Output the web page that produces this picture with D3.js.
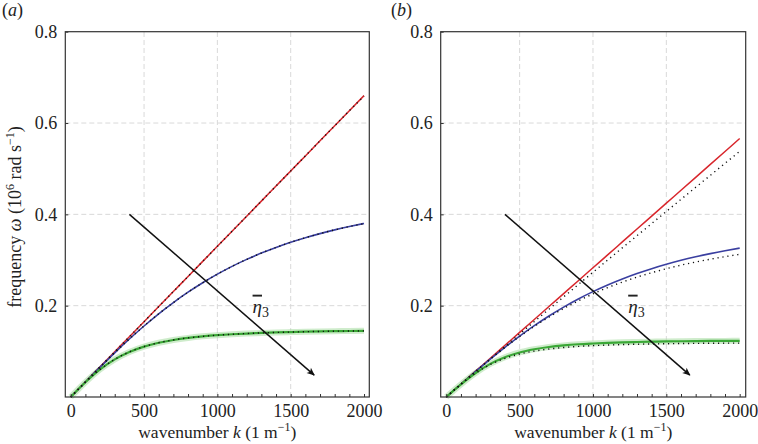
<!DOCTYPE html>
<html>
<head>
<meta charset="utf-8">
<script src="https://cdn.jsdelivr.net/npm/d3@7/dist/d3.min.js"></script>
<style>
  html, body { margin: 0; padding: 0; background: #fff; }
  svg { display: block; }
  text { font-family: "Liberation Serif", "Times New Roman", serif; fill: #222; }
</style>
</head>
<body>
<svg id="chart" width="758" height="444"></svg>
<script>
// ---------------- data ----------------
const kValues = [0,100,200,300,400,500,600,700,800,900,1000,1100,1200,1300,1400,1500,1600,1700,1800,1900,2000];

// panel (a)
const aRed   = [0,0.033,0.066,0.099,0.132,0.165,0.198,0.231,0.264,0.297,0.33,0.363,0.396,0.429,0.462,0.495,0.528,0.561,0.594,0.627,0.66];
const aBlue  = [0,0.0329,0.0653,0.0968,0.127,0.1555,0.1822,0.2068,0.2295,0.2502,0.269,0.2861,0.3014,0.3152,0.3276,0.3388,0.3488,0.3578,0.366,0.3733,0.38];
const aGreen = [0,0.0322,0.0603,0.0824,0.0987,0.1104,0.1188,0.1249,0.1294,0.1328,0.1354,0.1374,0.139,0.1403,0.1414,0.1422,0.143,0.1436,0.1441,0.1445,0.1449];
const aRedDot   = [0,0.033,0.066,0.099,0.132,0.165,0.198,0.231,0.264,0.297,0.33,0.363,0.396,0.429,0.462,0.495,0.528,0.561,0.594,0.627,0.659];
const aBlueDot  = [0,0.0329,0.0653,0.0968,0.127,0.1555,0.1822,0.2068,0.2295,0.2502,0.269,0.2861,0.3014,0.3152,0.3276,0.3388,0.3488,0.3578,0.366,0.3733,0.3795];
const aGreenDot = [0,0.0322,0.0603,0.0824,0.0987,0.1104,0.1188,0.1249,0.1294,0.1328,0.1354,0.1374,0.139,0.1403,0.1414,0.1422,0.143,0.1436,0.1441,0.1445,0.1448];

// panel (b)
const bRed   = [0,0.0283,0.0566,0.0849,0.1132,0.1415,0.1698,0.1981,0.2264,0.2547,0.283,0.3113,0.3396,0.3679,0.3962,0.4245,0.4528,0.4811,0.5094,0.5377,0.566];
const bBlue  = [0,0.0282,0.0560,0.0830,0.1089,0.1334,0.1562,0.1774,0.1969,0.2147,0.2308,0.2454,0.2585,0.2704,0.2811,0.2907,0.2993,0.3070,0.3140,0.3203,0.3260];
const bGreen = [0,0.0277,0.0525,0.0725,0.0870,0.0975,0.1045,0.1095,0.1130,0.1155,0.1172,0.1186,0.1197,0.1205,0.1212,0.1217,0.1221,0.1224,0.1227,0.1229,0.1231];
const bRedDot   = [0,0.0280,0.0557,0.0833,0.1107,0.1380,0.1652,0.1923,0.2193,0.2462,0.2731,0.2999,0.3266,0.3532,0.3798,0.4063,0.4328,0.4592,0.4855,0.5118,0.5380];
const bBlueDot  = [0,0.0282,0.0560,0.0828,0.1084,0.1324,0.1547,0.1751,0.1938,0.2106,0.2258,0.2395,0.2516,0.2625,0.2722,0.2809,0.2887,0.2956,0.3018,0.3074,0.3124];
const bGreenDot = [0,0.0277,0.0520,0.0710,0.0845,0.0942,0.1005,0.1050,0.1084,0.1108,0.1125,0.1138,0.1148,0.1156,0.1162,0.1167,0.1171,0.1174,0.1177,0.1179,0.1181];

const xTickLabels = [0,500,1000,1500,2000];
const xMinorTicks = [0,100,200,300,400,500,600,700,800,900,1000,1100,1200,1300,1400,1500,1600,1700,1800,1900,2000];
const yTickLabels = [0.2,0.4,0.6,0.8];
const xGrid = [500,1000,1500];
const yGrid = [0.2,0.4,0.6];

const arrowStart = [400, 0.4];
const arrowEnd   = [1660, 0.048];
const etaLabelPos = [1240, 0.2];

const panelLetters = ["a","b"];

// ---------------- drawing ----------------
const svg = d3.select("#chart");
const COLORS = { red: "#d8262c", blue: "#3a3fa0", green: "#3aa836", halo: "#a8dca2" };

const defs = svg.append("defs");
defs.append("marker")
  .attr("id","arrowhead")
  .attr("viewBox","0 0 10 10")
  .attr("refX",9).attr("refY",5)
  .attr("markerWidth",11).attr("markerHeight",8)
  .attr("markerUnits","userSpaceOnUse")
  .attr("orient","auto")
  .append("path").attr("d","M0,0.8 L10,5 L0,9.2 L2.5,5 Z").attr("fill","#111");

function drawPanel(cfg) {
  const x = d3.scaleLinear().domain(cfg.xDomain).range([cfg.left, cfg.right]);
  const y = d3.scaleLinear().domain([0, 0.8]).range([397, 31.7]);
  const g = svg.append("g");

  // grid
  g.selectAll(".gx").data(xGrid).enter().append("line")
    .attr("x1", d => x(d)).attr("x2", d => x(d))
    .attr("y1", y(0)).attr("y2", y(0.8))
    .attr("stroke","#d9d9d9").attr("stroke-width",1).attr("stroke-dasharray","5,3");
  g.selectAll(".gy").data(yGrid).enter().append("line")
    .attr("x1", cfg.left).attr("x2", cfg.right)
    .attr("y1", d => y(d)).attr("y2", d => y(d))
    .attr("stroke","#d9d9d9").attr("stroke-width",1).attr("stroke-dasharray","5,3");

  const line = d3.line().x((d,i) => x(kValues[i])).y(d => y(d)).curve(d3.curveMonotoneX);

  // green halo + lines
  g.append("path").datum(cfg.green).attr("d", line)
    .attr("fill","none").attr("stroke",COLORS.halo).attr("stroke-width",6).attr("stroke-opacity",0.55);
  g.append("path").datum(cfg.red).attr("d", line)
    .attr("fill","none").attr("stroke",COLORS.red).attr("stroke-width",1.5);
  g.append("path").datum(cfg.blue).attr("d", line)
    .attr("fill","none").attr("stroke",COLORS.blue).attr("stroke-width",1.6);
  g.append("path").datum(cfg.green).attr("d", line)
    .attr("fill","none").attr("stroke",COLORS.green).attr("stroke-width",2.2);

  // dotted model curves
  [cfg.redDot, cfg.blueDot, cfg.greenDot].forEach(arr => {
    g.append("path").datum(arr).attr("d", line)
      .attr("fill","none").attr("stroke","#111").attr("stroke-width",1.4)
      .attr("stroke-dasharray","1.2,3.8").attr("stroke-linecap","butt");
  });

  // arrow
  g.append("line")
    .attr("x1", x(arrowStart[0])).attr("y1", y(arrowStart[1]))
    .attr("x2", x(arrowEnd[0])).attr("y2", y(arrowEnd[1]))
    .attr("stroke","#111").attr("stroke-width",1.5)
    .attr("marker-end","url(#arrowhead)");

  // eta label
  const eta = g.append("text")
    .attr("x", x(etaLabelPos[0])).attr("y", y(etaLabelPos[1]) + 7)
    .attr("font-size", 19);
  eta.append("tspan").attr("font-style","italic").style("text-decoration","overline").text("η");
  eta.append("tspan").attr("font-size", 14).attr("dy", 4).text("3");

  // axes
  const xAxis = d3.axisBottom(x).tickValues(xMinorTicks)
    .tickFormat(d => xTickLabels.includes(d) ? d : "")
    .tickSizeInner(-3).tickSizeOuter(0).tickPadding(7);
  const gx = g.append("g").attr("transform", `translate(0,${y(0)})`).call(xAxis);
  gx.select(".domain").remove();
  gx.selectAll("line").attr("stroke","#333");
  gx.selectAll("text").attr("font-size",18).attr("fill","#222");

  const yAxis = d3.axisLeft(y).tickValues(yTickLabels)
    .tickFormat(d3.format(".1f")).tickSizeInner(-3).tickSizeOuter(0).tickPadding(8);
  const gy = g.append("g").attr("transform", `translate(${cfg.left},0)`).call(yAxis);
  gy.select(".domain").remove();
  gy.selectAll("line").attr("stroke","#333");
  gy.selectAll("text").attr("font-size",18).attr("fill","#222");

  // frame
  g.append("rect")
    .attr("x", cfg.left).attr("y", y(0.8))
    .attr("width", cfg.right - cfg.left).attr("height", y(0) - y(0.8))
    .attr("fill","none").attr("stroke","#333").attr("stroke-width",1.2);

  // x label
  const xl = g.append("text")
    .attr("x", (cfg.left + cfg.right) / 2).attr("y", 438)
    .attr("text-anchor","middle").attr("font-size",17.5);
  xl.append("tspan").text("wavenumber ");
  xl.append("tspan").attr("font-style","italic").text("k");
  xl.append("tspan").text(" (1 m");
  xl.append("tspan").attr("font-size",12).attr("dy",-7).text("−1");
  xl.append("tspan").attr("dy",7).text(")");

  // panel letter
  const pl = g.append("text").attr("x", cfg.letterX).attr("y", 16).attr("font-size",18);
  pl.append("tspan").text("(");
  pl.append("tspan").attr("font-style","italic").text(cfg.letter);
  pl.append("tspan").text(")");

  return {x, y};
}

drawPanel({
  xDomain: [-37, 2036], left: 65.3, right: 369.3, letter: panelLetters[0], letterX: 2,
  red: aRed, blue: aBlue, green: aGreen, redDot: aRedDot, blueDot: aBlueDot, greenDot: aGreenDot
});
drawPanel({
  xDomain: [-38, 2041], left: 440.7, right: 745.7, letter: panelLetters[1], letterX: 391,
  red: bRed, blue: bBlue, green: bGreen, redDot: bRedDot, blueDot: bBlueDot, greenDot: bGreenDot
});

// y label (panel a only)
const yl = svg.append("text")
  .attr("transform","translate(21,217) rotate(-90)")
  .attr("text-anchor","middle").attr("font-size",18);
yl.append("tspan").text("frequency ");
yl.append("tspan").attr("font-style","italic").text("ω");
yl.append("tspan").text(" (10");
yl.append("tspan").attr("font-size",12).attr("dy",-7).text("6");
yl.append("tspan").attr("dy",7).text(" rad s");
yl.append("tspan").attr("font-size",12).attr("dy",-7).text("−1");
yl.append("tspan").attr("dy",7).text(")");
</script>
</body>
</html>
